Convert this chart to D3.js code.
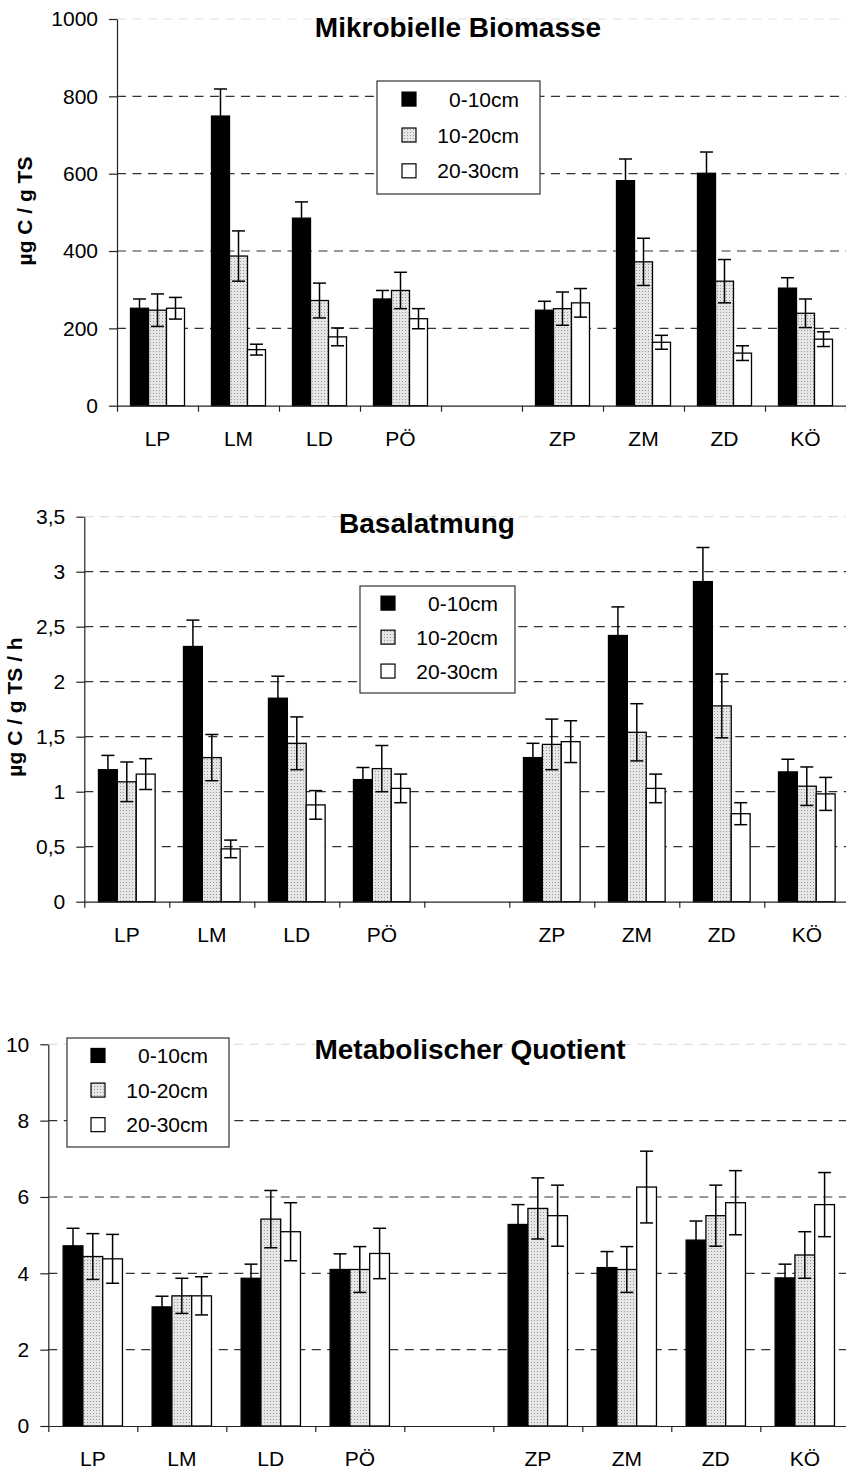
<!DOCTYPE html>
<html>
<head>
<meta charset="utf-8">
<script src="https://cdn.jsdelivr.net/npm/d3@7"></script>
<style>
  body { margin: 0; background: #fff; }
  text { font-family: "Liberation Sans", Arial, sans-serif; fill: #000; }
</style>
</head>
<body>
<svg id="chart" width="846" height="1470"></svg>
<script>
// categories (the empty one is the gap between the two site groups)
const categories = ["LP", "LM", "LD", "PÖ", "", "ZP", "ZM", "ZD", "KÖ"];
const depths = ["0-10cm", "10-20cm", "20-30cm"];

// Mikrobielle Biomasse, µg C / g TS  (one row per depth)
const biomasseMean = [
  [252, 749, 485, 276, null, 247, 582, 601, 304],
  [247, 387, 272, 298, null, 251, 372, 322, 239],
  [252, 145, 178, 225, null, 266, 164, 136, 172]
];
const biomasseErr = [
  [24, 70, 42, 22, null, 23, 56, 55, 27],
  [42, 65, 45, 47, null, 43, 61, 56, 37],
  [28, 14, 23, 26, null, 37, 18, 19, 19]
];
const biomasseTicks = [0, 200, 400, 600, 800, 1000];

// Basalatmung, µg C / g TS / h
const atmungMean = [
  [1.20, 2.32, 1.85, 1.11, null, 1.31, 2.42, 2.91, 1.18],
  [1.09, 1.31, 1.44, 1.21, null, 1.43, 1.54, 1.78, 1.05],
  [1.16, 0.48, 0.88, 1.03, null, 1.455, 1.03, 0.80, 0.98]
];
const atmungErr = [
  [0.13, 0.24, 0.20, 0.11, null, 0.13, 0.26, 0.31, 0.115],
  [0.18, 0.21, 0.24, 0.21, null, 0.23, 0.26, 0.29, 0.175],
  [0.14, 0.08, 0.13, 0.13, null, 0.19, 0.13, 0.10, 0.15]
];
const atmungTicks = [0, 0.5, 1, 1.5, 2, 2.5, 3, 3.5];

// Metabolischer Quotient
const qco2Mean = [
  [4.72, 3.12, 3.87, 4.10, null, 5.28, 4.15, 4.87, 3.88],
  [4.44, 3.41, 5.42, 4.10, null, 5.70, 4.10, 5.51, 4.48],
  [4.38, 3.41, 5.09, 4.52, null, 5.51, 6.26, 5.85, 5.80]
];
const qco2Err = [
  [0.46, 0.28, 0.37, 0.41, null, 0.52, 0.42, 0.50, 0.36],
  [0.60, 0.46, 0.75, 0.60, null, 0.80, 0.60, 0.80, 0.61],
  [0.64, 0.50, 0.76, 0.66, null, 0.80, 0.94, 0.84, 0.84]
];
const qco2Ticks = [0, 2, 4, 6, 8, 10];

const fills = ["#000", "url(#stipple)", "#fff"];
const fmt = d3.formatLocale({decimal: ",", thousands: ".", grouping: [3], currency: ["", ""]}).format("");

const svg = d3.select("#chart");

const pat = svg.append("defs").append("pattern")
               .attr("id", "stipple")
               .attr("width", 3)
               .attr("height", 3)
               .attr("patternUnits", "userSpaceOnUse");
pat.append("rect").attr("width", 3).attr("height", 3).attr("fill", "#e6e6e6");
pat.append("rect").attr("width", 1).attr("height", 1).attr("fill", "#9a9a9a");

const charts = [
  { title: "Mikrobielle Biomasse", ylabel: "µg C / g TS", mean: biomasseMean, err: biomasseErr, ticks: biomasseTicks,
    left: 117, right: 846, top: 19, bottom: 405.7, titleX: 458, titleY: 37,
    ylabelX: 32, ylabelY: 211, legend: { x: 377, y: 81, w: 163, h: 113, sw: 25, te: 142 } },
  { title: "Basalatmung", ylabel: "µg C / g TS / h", mean: atmungMean, err: atmungErr, ticks: atmungTicks,
    left: 84.3, right: 849.3, top: 516.7, bottom: 901.7, titleX: 427, titleY: 533,
    ylabelX: 22, ylabelY: 707, legend: { x: 360, y: 586, w: 155, h: 107, sw: 21, te: 138 } },
  { title: "Metabolischer Quotient", ylabel: null, mean: qco2Mean, err: qco2Err, ticks: qco2Ticks,
    left: 48.3, right: 849.3, top: 1044.3, bottom: 1426, titleX: 470, titleY: 1059,
    ylabelX: 0, ylabelY: 0, legend: { x: 67, y: 1038, w: 162, h: 109, sw: 24, te: 141 } }
];

const drawChart = (c) => {
  const g = svg.append("g");
  const ymax = d3.max(c.ticks);

  const y = d3.scaleLinear().domain([0, ymax]).range([c.bottom, c.top]);
  const x = d3.scaleBand().domain(categories).range([c.left, c.right]);
  const xi = d3.scaleBand().domain(depths).range([0, x.bandwidth()]).paddingOuter(0.75);

  // gridlines
  g.append("g")
   .selectAll("line")
   .data(c.ticks.filter(d => d > 0))
   .join("line")
   .attr("x1", c.left)
   .attr("x2", c.right)
   .attr("y1", d => y(d))
   .attr("y2", d => y(d))
   .attr("stroke", d => d === ymax ? "#e0e0e0" : "#333")
   .attr("stroke-width", 1.2)
   .attr("stroke-dasharray", "9,6.5");

  const rows = [];
  categories.forEach((cat, i) => {
    depths.forEach((dep, j) => {
      if (c.mean[j][i] != null) rows.push({ cat, dep, j, v: c.mean[j][i], e: c.err[j][i] });
    });
  });

  g.append("g")
   .selectAll("rect")
   .data(rows)
   .join("rect")
   .attr("x", d => x(d.cat) + xi(d.dep))
   .attr("y", d => y(d.v))
   .attr("width", xi.bandwidth())
   .attr("height", d => c.bottom - y(d.v))
   .attr("fill", d => fills[d.j])
   .attr("stroke", "#000")
   .attr("stroke-width", 1.3);

  const eb = g.append("g")
              .attr("stroke", "#000")
              .attr("stroke-width", 1.5)
              .selectAll("g")
              .data(rows)
              .join("g")
              .attr("transform", d => `translate(${x(d.cat) + xi(d.dep) + xi.bandwidth() / 2}, 0)`);
  eb.append("line")
    .attr("y1", d => y(d.v - d.e))
    .attr("y2", d => y(d.v + d.e));
  eb.append("line")
    .attr("x1", -6.5).attr("x2", 6.5)
    .attr("y1", d => y(d.v + d.e))
    .attr("y2", d => y(d.v + d.e));
  eb.append("line")
    .attr("x1", -6.5).attr("x2", 6.5)
    .attr("y1", d => y(d.v - d.e))
    .attr("y2", d => y(d.v - d.e));

  // y axis
  const ya = g.append("g")
              .attr("transform", `translate(${c.left}, 0)`)
              .call(d3.axisLeft(y).tickValues(c.ticks).tickSize(8).tickSizeOuter(0).tickPadding(11).tickFormat(fmt));
  ya.selectAll("path, line").attr("stroke", "#222").attr("stroke-width", 1.2);
  ya.selectAll("text").style("font-size", "21px").style("font-family", "Liberation Sans, Arial, sans-serif");

  // x axis: ticks at slot boundaries, labels centred in slots
  const xs = d3.scaleLinear().domain([0, categories.length]).range([c.left, c.right]);
  const xa = g.append("g")
              .attr("transform", `translate(0, ${c.bottom})`)
              .call(d3.axisBottom(xs).tickValues(d3.range(categories.length + 1)).tickSize(6).tickSizeOuter(0).tickFormat(""));
  xa.selectAll("path, line").attr("stroke", "#222").attr("stroke-width", 1.2);

  g.append("g")
   .selectAll("text")
   .data(categories)
   .join("text")
   .attr("x", d => x(d) + x.bandwidth() / 2)
   .attr("y", c.bottom + 40)
   .attr("text-anchor", "middle")
   .style("font-size", "21px")
   .text(d => d);

  // title
  g.append("text")
   .attr("x", c.titleX)
   .attr("y", c.titleY)
   .attr("text-anchor", "middle")
   .style("font-size", "28px")
   .style("font-weight", 700)
   .text(c.title);

  if (c.ylabel) {
    g.append("text")
     .attr("transform", `translate(${c.ylabelX}, ${c.ylabelY}) rotate(-90)`)
     .attr("text-anchor", "middle")
     .style("font-size", "21px")
     .style("font-weight", 700)
     .text(c.ylabel);
  }

  // legend
  const L = c.legend;
  const legend = g.append("g").attr("transform", `translate(${L.x}, ${L.y})`);
  legend.append("rect")
        .attr("width", L.w)
        .attr("height", L.h)
        .attr("fill", "#fff")
        .attr("stroke", "#333")
        .attr("stroke-width", 1.2);
  const rowY = [0.16, 0.478, 0.795].map(f => f * L.h);
  legend.selectAll("rect.sw")
        .data(depths)
        .join("rect")
        .attr("class", "sw")
        .attr("x", L.sw)
        .attr("y", (d, i) => rowY[i] - 7)
        .attr("width", 14)
        .attr("height", 14)
        .attr("fill", (d, i) => fills[i])
        .attr("stroke", "#000")
        .attr("stroke-width", 1.2);
  legend.selectAll("text")
        .data(depths)
        .join("text")
        .attr("x", L.te)
        .attr("y", (d, i) => rowY[i])
        .attr("dy", "0.36em")
        .attr("text-anchor", "end")
        .style("font-size", "21px")
        .text(d => d);
};

charts.forEach(drawChart);
</script>
</body>
</html>
